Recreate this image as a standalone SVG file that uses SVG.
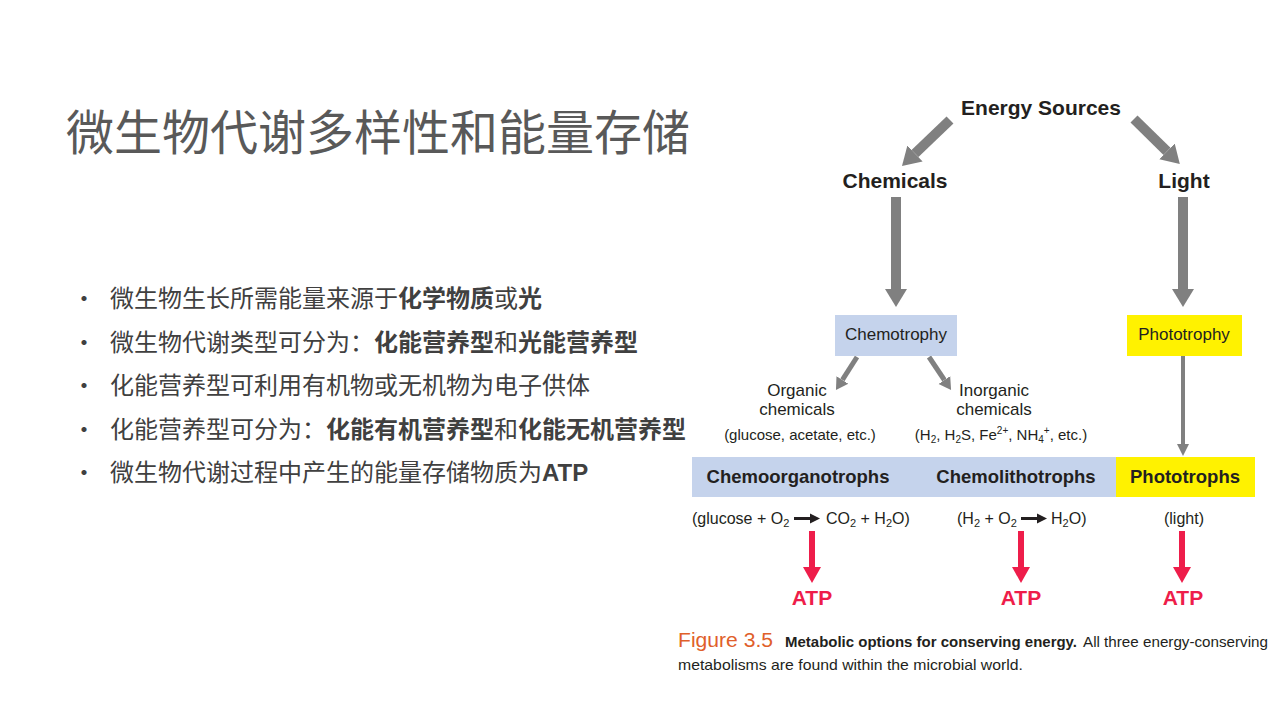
<svg xmlns="http://www.w3.org/2000/svg" width="1280" height="720" viewBox="0 0 1280 720">
<defs>
<marker id="hBig" markerUnits="userSpaceOnUse" viewBox="0 -12 20 24" refX="0" refY="0" markerWidth="20" markerHeight="24" orient="auto"><path d="M0,-11 L18,0 L0,11 z" fill="#808080"/></marker>
<marker id="hSmall" markerUnits="userSpaceOnUse" viewBox="0 -8 14 16" refX="0" refY="0" markerWidth="14" markerHeight="16" orient="auto"><path d="M0,-7 L12,0 L0,7 z" fill="#808080"/></marker>
<marker id="hThin" markerUnits="userSpaceOnUse" viewBox="0 -7 14 14" refX="0" refY="0" markerWidth="14" markerHeight="14" orient="auto"><path d="M0,-6 L12,0 L0,6 z" fill="#808080"/></marker>
<marker id="hRed" markerUnits="userSpaceOnUse" viewBox="0 -10 18 20" refX="0" refY="0" markerWidth="18" markerHeight="20" orient="auto"><path d="M0,-9 L16,0 L0,9 z" fill="#ee1d4a"/></marker>
<marker id="hBlk" markerUnits="userSpaceOnUse" viewBox="0 -6 12 12" refX="0" refY="0" markerWidth="12" markerHeight="12" orient="auto"><path d="M0,-5 L10,0 L0,5 z" fill="#231f20"/></marker>
</defs>
<style>
.title{font-family:"Noto Sans CJK SC","Noto Sans",sans-serif;font-size:48px;fill:#595959;}
.bul{font-family:"Noto Sans CJK SC","Noto Sans",sans-serif;font-size:24px;fill:#404040;}
.b{font-weight:bold;}
.hd{font-family:"Liberation Sans",Arial,sans-serif;font-weight:bold;font-size:21px;fill:#231f20;text-anchor:middle;}
.nd{font-family:"Liberation Sans",Arial,sans-serif;font-size:17px;fill:#231f20;text-anchor:middle;}
.sm{font-family:"Liberation Sans",Arial,sans-serif;font-size:15px;fill:#231f20;text-anchor:middle;}
.eq{font-family:"Liberation Sans",Arial,sans-serif;font-size:16px;fill:#231f20;}
.band{font-family:"Liberation Sans",Arial,sans-serif;font-weight:bold;font-size:18.5px;fill:#231f20;text-anchor:middle;}
.atp{font-family:"Liberation Sans",Arial,sans-serif;font-weight:bold;font-size:21px;fill:#ee1d4a;text-anchor:middle;}
.cap{font-family:"Liberation Sans",Arial,sans-serif;fill:#231f20;font-size:15px;}
.fig{font-family:"Liberation Sans",Arial,sans-serif;fill:#e0602a;font-size:20px;}
.gb{stroke:#808080;stroke-width:10;fill:none;}
.gs{stroke:#808080;stroke-width:5;fill:none;}
.gt{stroke:#808080;stroke-width:4;fill:none;}
.rd{stroke:#ee1d4a;stroke-width:6;fill:none;}
</style>
<rect width="1280" height="720" fill="#ffffff"/>
<text class="title" x="66" y="150">微生物代谢多样性和能量存储</text>
<g id="bullets">
<text class="bul" x="72" y="307">•</text>
<text class="bul" x="110" y="307">微生物生长所需能量来源于<tspan class="b">化学物质</tspan>或<tspan class="b">光</tspan></text>
<text class="bul" x="72" y="351">•</text>
<text class="bul" x="110" y="351">微生物代谢类型可分为：<tspan class="b">化能营养型</tspan>和<tspan class="b">光能营养型</tspan></text>
<text class="bul" x="72" y="394">•</text>
<text class="bul" x="110" y="394">化能营养型可利用有机物或无机物为电子供体</text>
<text class="bul" x="72" y="438">•</text>
<text class="bul" x="110" y="438">化能营养型可分为：<tspan class="b">化能有机营养型</tspan>和<tspan class="b">化能无机营养型</tspan></text>
<text class="bul" x="72" y="481">•</text>
<text class="bul" x="110" y="481">微生物代谢过程中产生的能量存储物质为<tspan class="b" font-family="Liberation Sans, sans-serif">ATP</tspan></text>
</g>
<g id="connectors">
<path class="gb" d="M950,120 L915,153.5" marker-end="url(#hBig)"/>
<path class="gb" d="M1134,119 L1167,151.4" marker-end="url(#hBig)"/>
<path class="gb" d="M896,197 L896,289" marker-end="url(#hBig)"/>
<path class="gb" d="M1183,197 L1183,289" marker-end="url(#hBig)"/>
<path class="gs" d="M857,357 L842.4,379.9" marker-end="url(#hSmall)"/>
<path class="gs" d="M929,357 L944.4,380" marker-end="url(#hSmall)"/>
<path class="gt" d="M1183,356 L1183,444" marker-end="url(#hThin)"/>
<path class="rd" d="M812,531 L812,567" marker-end="url(#hRed)"/>
<path class="rd" d="M1021,531 L1021,567" marker-end="url(#hRed)"/>
<path class="rd" d="M1182,531 L1182,567" marker-end="url(#hRed)"/>
</g>
<g id="energy-sources"><text class="hd" x="1041" y="115">Energy Sources</text></g>
<g id="chemicals"><text class="hd" x="895" y="188">Chemicals</text></g>
<g id="light"><text class="hd" x="1184" y="188">Light</text></g>
<g id="chemotrophy"><rect x="835" y="315" width="122" height="41" fill="#c5d3ec"/><text class="nd" x="896" y="340">Chemotrophy</text></g>
<g id="phototrophy"><rect x="1127" y="315" width="115" height="41" fill="#fff200"/><text class="nd" x="1184" y="340">Phototrophy</text></g>
<g id="organic">
<text class="nd" x="797" y="396">Organic</text>
<text class="nd" x="797" y="415">chemicals</text>
<text class="sm" x="800" y="440">(glucose, acetate, etc.)</text>
</g>
<g id="inorganic">
<text class="nd" x="994" y="396">Inorganic</text>
<text class="nd" x="994" y="415">chemicals</text>
<text class="sm" x="1001" y="440">(H<tspan font-size="10" dy="3">2</tspan><tspan dy="-3">, H</tspan><tspan font-size="10" dy="3">2</tspan><tspan dy="-3">S, Fe</tspan><tspan font-size="10" dy="-6">2+</tspan><tspan dy="6">, NH</tspan><tspan font-size="10" dy="3">4</tspan><tspan font-size="10" dy="-9">+</tspan><tspan dy="6">, etc.)</tspan></text>
</g>
<g id="band">
<rect x="692" y="457" width="424" height="40" fill="#c5d3ec"/>
<rect x="1116" y="457" width="139" height="40" fill="#fff200"/>
</g>
<g id="chemoorganotrophs"><text class="band" x="798" y="483">Chemoorganotrophs</text>
<text class="eq" x="692" y="524">(glucose + O<tspan font-size="11" dy="3">2</tspan></text>
<path d="M794,518.5 L810,518.5" stroke="#231f20" stroke-width="3" marker-end="url(#hBlk)"/>
<text class="eq" x="826" y="524">CO<tspan font-size="11" dy="3">2</tspan><tspan dy="-3"> + H</tspan><tspan font-size="11" dy="3">2</tspan><tspan dy="-3">O)</tspan></text>
</g>
<g id="chemolithotrophs"><text class="band" x="1016" y="483">Chemolithotrophs</text>
<text class="eq" x="957" y="524">(H<tspan font-size="11" dy="3">2</tspan><tspan dy="-3"> + O</tspan><tspan font-size="11" dy="3">2</tspan></text>
<path d="M1021,518.5 L1037,518.5" stroke="#231f20" stroke-width="3" marker-end="url(#hBlk)"/>
<text class="eq" x="1051" y="524">H<tspan font-size="11" dy="3">2</tspan><tspan dy="-3">O)</tspan></text>
</g>
<g id="phototrophs"><text class="band" x="1185" y="483">Phototrophs</text>
<text class="eq" x="1184" y="524" text-anchor="middle">(light)</text>
</g>
<g id="atp1"><text class="atp" x="812" y="605">ATP</text></g>
<g id="atp2"><text class="atp" x="1021" y="605">ATP</text></g>
<g id="atp3"><text class="atp" x="1183" y="605">ATP</text></g>
<g id="caption">
<text class="fig" x="678" y="647" textLength="95" lengthAdjust="spacingAndGlyphs">Figure 3.5</text>
<text class="cap" x="785" y="647" font-weight="bold" textLength="292" lengthAdjust="spacingAndGlyphs">Metabolic options for conserving energy.</text>
<text class="cap" x="1083" y="647" textLength="185" lengthAdjust="spacingAndGlyphs">All three energy-conserving</text>
<text class="cap" x="678" y="670" textLength="345" lengthAdjust="spacingAndGlyphs">metabolisms are found within the microbial world.</text>
</g>
</svg>
